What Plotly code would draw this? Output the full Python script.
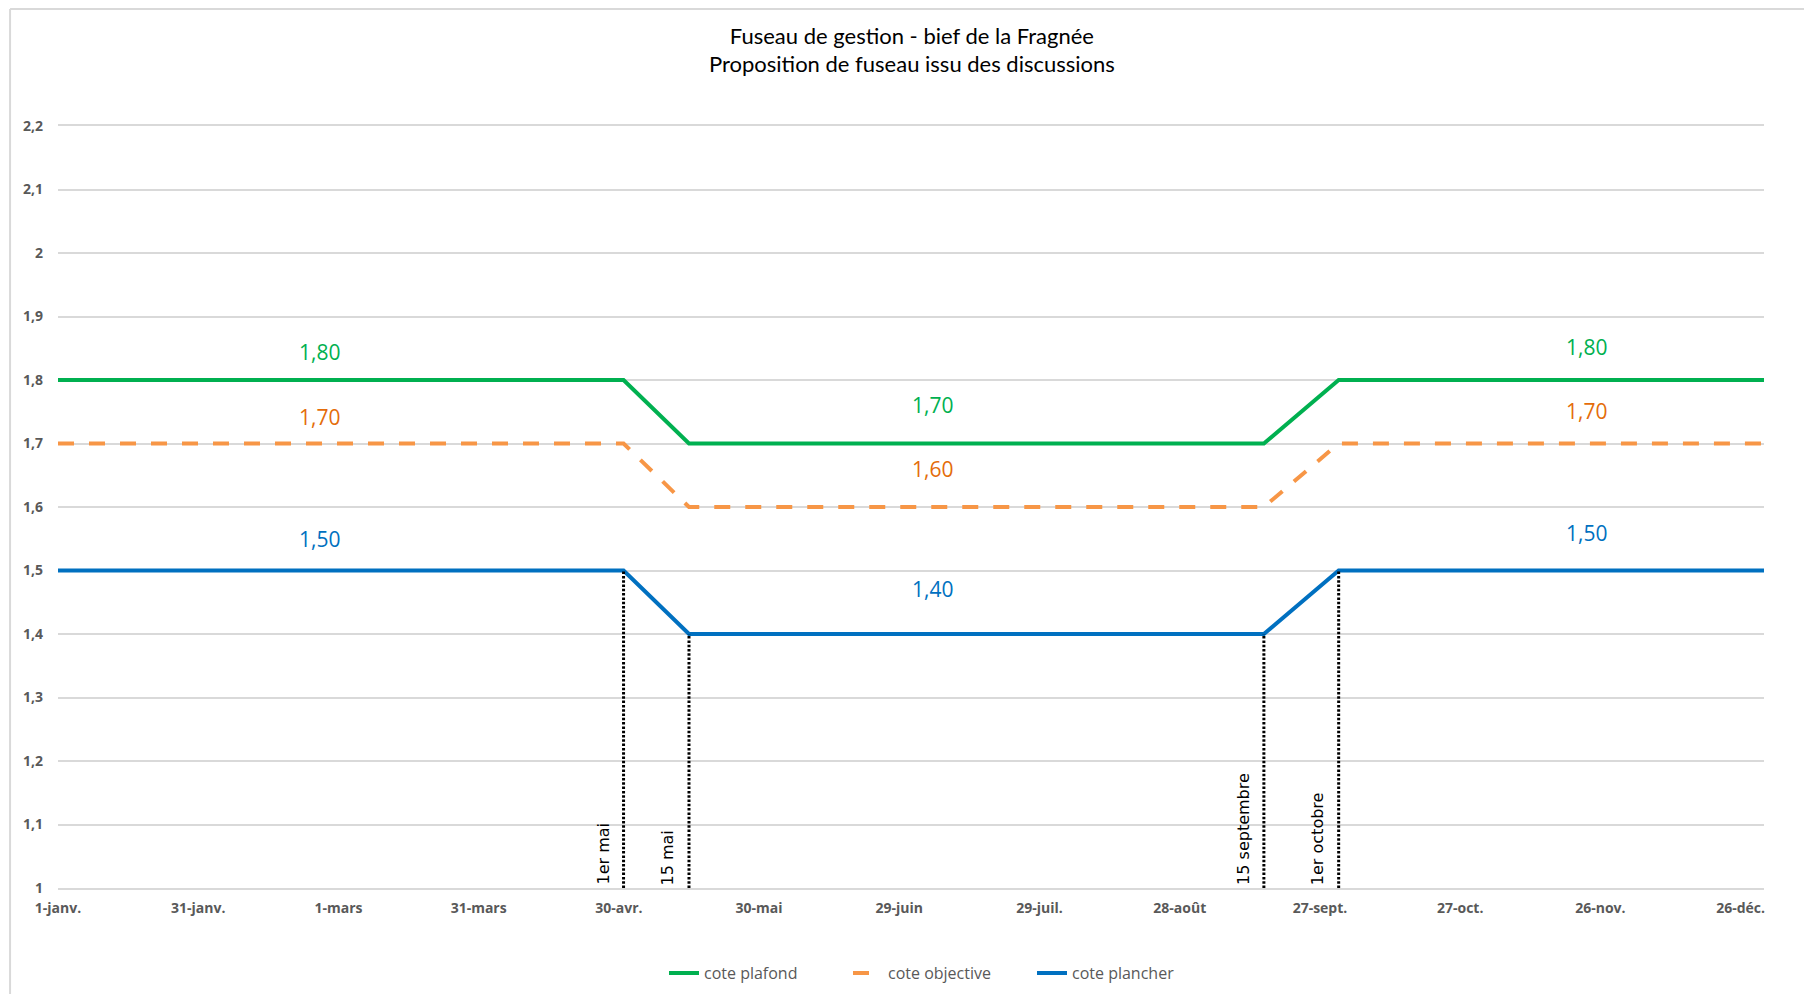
import plotly.graph_objects as go

# ---- data ----
dates = ["2024-01-01", "2024-05-01", "2024-05-15", "2024-09-15", "2024-10-01", "2024-12-31"]
cote_plafond = [1.8, 1.8, 1.7, 1.7, 1.8, 1.8]
cote_objective = [1.7, 1.7, 1.6, 1.6, 1.7, 1.7]
cote_plancher = [1.5, 1.5, 1.4, 1.4, 1.5, 1.5]

label_dates = ["2024-02-26", "2024-07-06", "2024-11-23"]
label_plafond = [1.8, 1.7, 1.8]
label_objective = [1.7, 1.6, 1.7]
label_plancher = [1.5, 1.4, 1.5]

event_dates = ["2024-05-01", "2024-05-15", "2024-09-15", "2024-10-01"]
event_labels = ["1er mai", "15 mai", "15 septembre", "1er octobre"]
event_tops = [1.5, 1.4, 1.4, 1.5]

x_tick_dates = ["2024-01-01", "2024-01-31", "2024-03-01", "2024-03-31", "2024-04-30",
                "2024-05-30", "2024-06-29", "2024-07-29", "2024-08-28", "2024-09-27",
                "2024-10-27", "2024-11-26", "2024-12-26"]
x_tick_labels = ["1-janv.", "31-janv.", "1-mars", "31-mars", "30-avr.", "30-mai",
                 "29-juin", "29-juil.", "28-août", "27-sept.", "27-oct.", "26-nov.", "26-déc."]
y_tick_vals = [1.0, 1.1, 1.2, 1.3, 1.4, 1.5, 1.6, 1.7, 1.8, 1.9, 2.0, 2.1, 2.2]
y_tick_labels = ["1", "1,1", "1,2", "1,3", "1,4", "1,5", "1,6", "1,7", "1,8", "1,9", "2", "2,1", "2,2"]

title_lines = ["Fuseau de gestion - bief de la Fragnée", "Proposition de fuseau issu des discussions"]

# ---- styles ----
GREEN = "#00B050"
ORANGE = "#F79646"
ORANGE_TXT = "#E46C0A"
BLUE = "#0070C0"
GRID = "#D9D9D9"
TICK = "#595959"

fig = go.Figure()

fig.add_trace(go.Scatter(x=dates, y=cote_plafond, mode="lines", name="cote plafond",
                         line=dict(color=GREEN, width=4)))
fig.add_trace(go.Scatter(x=dates, y=cote_objective, mode="lines", name="cote objective",
                         line=dict(color=ORANGE, width=4, dash="16px,15px")))
fig.add_trace(go.Scatter(x=dates, y=cote_plancher, mode="lines", name="cote plancher",
                         line=dict(color=BLUE, width=4)))

# vertical dotted event lines
for d, top in zip(event_dates, event_tops):
    fig.add_trace(go.Scatter(x=[d, d], y=[1.0, top], mode="lines", showlegend=False,
                             hoverinfo="skip",
                             line=dict(color="black", width=3, dash="2.5px,1.8px")))

annotations = []
# event labels (rotated)
for d, txt in zip(event_dates, event_labels):
    annotations.append(dict(x=d, y=1.0, xref="x", yref="y", text=txt, showarrow=False,
                            textangle=-90, xanchor="center", yanchor="bottom",
                            xshift=-21, yshift=1,
                            font=dict(family="DejaVu Sans", size=16, color="black")))

# value labels
label_shifts = {
    "plafond": [28, 39, 33],
    "objective": [27, 38, 33],
    "plancher": [32, 45, 38],
}
for vals, key, col in [(label_plafond, "plafond", GREEN),
                       (label_objective, "objective", ORANGE_TXT),
                       (label_plancher, "plancher", BLUE)]:
    for d, v, s in zip(label_dates, vals, label_shifts[key]):
        annotations.append(dict(x=d, y=v, xref="x", yref="y",
                                text=f"{v:.2f}".replace(".", ","), showarrow=False,
                                xanchor="center", yanchor="middle", yshift=s,
                                font=dict(family="Open Sans", size=21, color=col)))

# chart-area border (left + top), in paper coords
shapes = [
    dict(type="line", xref="paper", yref="paper", x0=-0.0281, x1=-0.0281, y0=-0.2, y1=1.1535,
         line=dict(color=GRID, width=2)),
    dict(type="line", xref="paper", yref="paper", x0=-0.0281, x1=1.03, y0=1.1535, y1=1.1535,
         line=dict(color=GRID, width=2)),
]

fig.update_layout(
    width=1804, height=994,
    margin=dict(l=58, r=40, t=126, b=106, autoexpand=False),
    paper_bgcolor="white", plot_bgcolor="white",
    title=dict(text="<br>".join(title_lines), x=0.5055, xanchor="center",
               y=0.956, yanchor="middle", yref="container",
               font=dict(family="Lato", size=22, color="#000000")),
    xaxis=dict(type="date", range=["2024-01-01", "2024-12-31"],
               tickvals=x_tick_dates, ticktext=x_tick_labels,
               showgrid=False, zeroline=False, ticks="",
               showline=True, linecolor=GRID, linewidth=1.5, mirror=True,
               ticklabelstandoff=6,
               tickfont=dict(family="Open Sans", size=14, color=TICK, weight="bold")),
    yaxis=dict(range=[1.0, 2.2], tickvals=y_tick_vals, ticktext=y_tick_labels,
               showgrid=True, gridcolor=GRID, gridwidth=1.5, zeroline=False, ticks="",
               showline=False, ticklabelstandoff=14,
               tickfont=dict(family="Open Sans", size=14, color=TICK, weight="bold")),
    legend=dict(orientation="h", x=0.517, xanchor="center",
                y=0.021, yref="container", yanchor="middle",
                font=dict(family="Open Sans", size=16, color=TICK),
                entrywidth=139, bgcolor="rgba(0,0,0,0)"),
    annotations=annotations,
    shapes=shapes,
    showlegend=True,
)

fig.write_html(
    "out.html",
    config={"displayModeBar": False},
    post_script=(
        "var h=document.documentElement,b=document.body;"
        "h.style.margin='0';h.style.padding='0';h.style.overflow='hidden';"
        "b.style.margin='0';b.style.padding='0';b.style.overflow='hidden';"
    ),
)
